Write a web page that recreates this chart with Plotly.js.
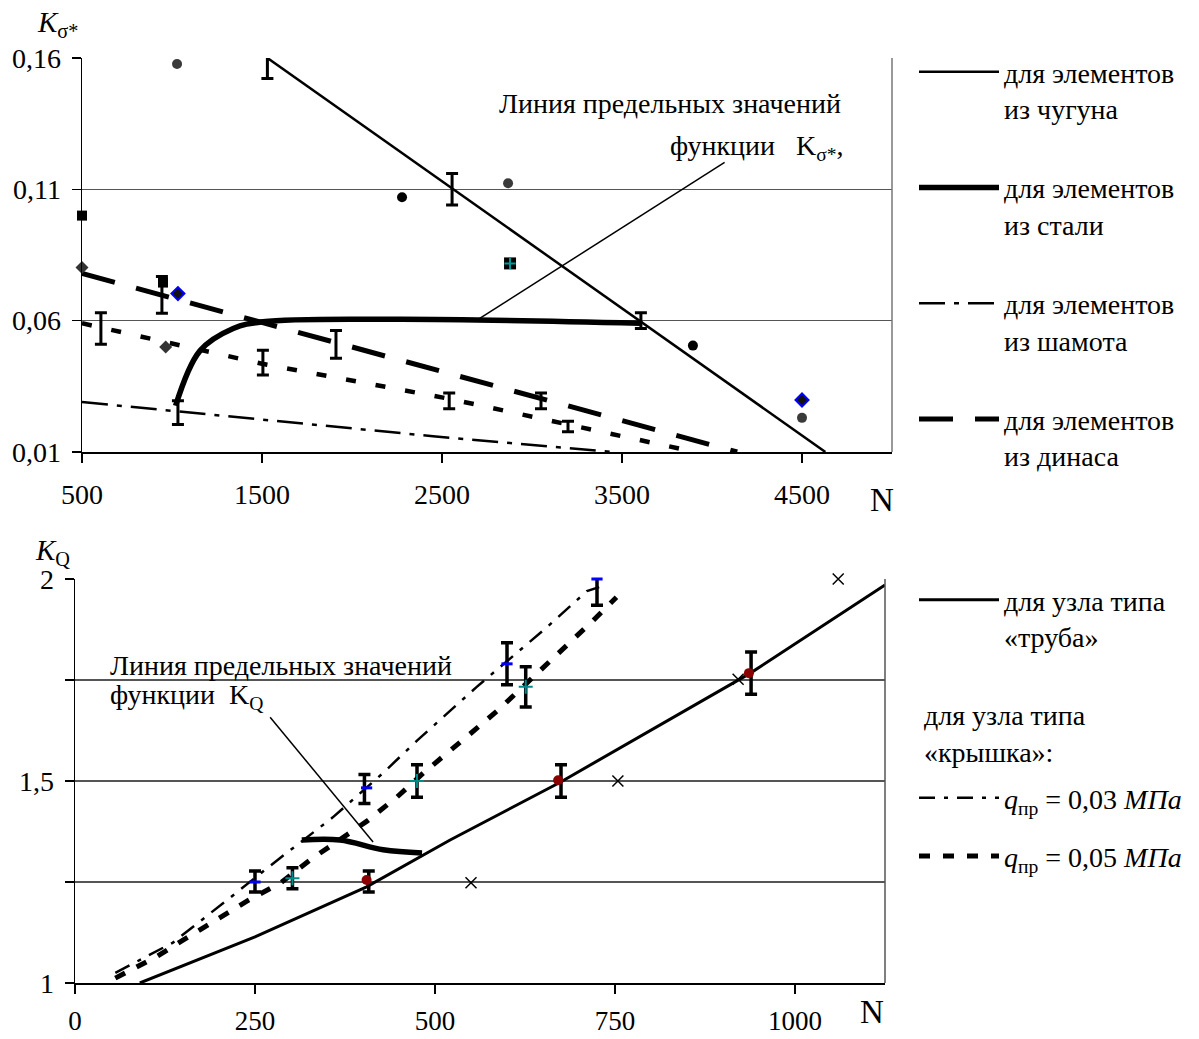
<!DOCTYPE html>
<html><head><meta charset="utf-8">
<script src="https://cdn.plot.ly/plotly-3.0.1.min.js"></script>
<style>body{margin:0;padding:0;background:#fff}#chart{width:1199px;height:1039px}</style>
</head><body><div id="chart"></div>
<script>
// ---------- Top chart (K_sigma* vs N) ----------
const topTickN = [500, 1500, 2500, 3500, 4500];
const topTickK = [0.01, 0.06, 0.11, 0.16];
const topTickKText = ['0,01', '0,06', '0,11', '0,16'];

const castIronN = [1530, 4630];
const castIronK = [0.16, 0.01];
const steelN = [1020, 1155, 1340, 1505, 2267, 3600];
const steelK = [0.0276, 0.0485, 0.057, 0.0596, 0.0605, 0.059];
const chamotteN = [500, 2450, 3450];
const chamotteK = [0.029, 0.016, 0.01];
const dinasN = [500, 1655, 2545, 4140];
const dinasK = [0.078, 0.0564, 0.0398, 0.01];
const midN = [500, 1500, 2545, 3878];
const midK = [0.059, 0.0436, 0.0302, 0.0104];

const topErrN = [1530, 2556, 3605, 1033, 944, 605, 1505, 1911, 2540, 3050, 3200];
const topErrK = [0.1587, 0.11, 0.06, 0.025, 0.0698, 0.057, 0.044, 0.051, 0.0295, 0.0295, 0.0197];
const topErrD = [0.0065, 0.006, 0.003, 0.0045, 0.007, 0.006, 0.0047, 0.0053, 0.003, 0.003, 0.002];

const grayCircN = [1028, 2867, 4500];
const grayCircK = [0.1577, 0.1123, 0.023];
const blackCircN = [2278, 3894];
const blackCircK = [0.107, 0.0505];
const blackSqN = [500, 950];
const blackSqK = [0.100, 0.0745];
const darkDiaN = [500, 965];
const darkDiaK = [0.0802, 0.050];
const blueDiaN = [1033, 4500];
const blueDiaK = [0.0703, 0.0298];
const tealSqN = [2878];
const tealSqK = [0.0818];

const topPtrN = [2690, 4070];
const topPtrK = [0.06, 0.1203];

// ---------- Bottom chart (K_Q vs N) ----------
const botTickN = [0, 250, 500, 750, 1000];
const botTickK = [1, 1.25, 1.5, 1.75, 2];
const botTickKText = ['1', '', '1,5', '', '2'];

const pipeN = [90, 250, 405, 521, 674, 775, 938, 1125];
const pipeK = [1.0, 1.114, 1.238, 1.354, 1.497, 1.60, 1.767, 1.985];
const q03N = [56, 136, 211, 281, 358, 428, 475, 558, 655, 711, 728];
const q03K = [1.025, 1.10, 1.205, 1.304, 1.41, 1.52, 1.60, 1.733, 1.88, 1.97, 1.98];
const q05N = [56, 113, 150, 197, 241, 285, 326, 405, 447, 484, 518, 551, 588, 655, 688, 720, 752];
const q05K = [1.012, 1.065, 1.106, 1.156, 1.205, 1.247, 1.304, 1.40, 1.46, 1.52, 1.569, 1.62, 1.676, 1.787, 1.844, 1.898, 1.955];
const limitN = [315, 368, 428, 482];
const limitK = [1.354, 1.354, 1.33, 1.322];

const botErrN = [250, 302, 408, 402, 475, 600, 626, 725, 675, 939];
const botErrK = [1.251, 1.259, 1.251, 1.48, 1.50, 1.79, 1.733, 1.973, 1.50, 1.767];
const botErrD = [0.026, 0.026, 0.026, 0.036, 0.04, 0.052, 0.05, 0.038, 0.04, 0.052];

const blueN = [250, 405, 600, 725];
const blueK = [1.25, 1.483, 1.79, 2.0];
const tealN = [302, 475, 626];
const tealK = [1.259, 1.50, 1.733];
const redN = [405, 671, 936];
const redK = [1.255, 1.502, 1.767];
const crossN = [550, 754, 921, 1060];
const crossK = [1.248, 1.5, 1.752, 2.0];

const botPtrN = [414, 271];
const botPtrK = [1.349, 1.658];

const FONT = '"Liberation Serif", "Times New Roman", serif';
const FS = 28;

function lineTrace(x, y, xa, ya, line, extra) {
  return Object.assign({type: 'scatter', mode: 'lines', x: x, y: y, xaxis: xa, yaxis: ya, line: line, showlegend: false, hoverinfo: 'skip'}, extra || {});
}
function markTrace(x, y, xa, ya, marker) {
  return {type: 'scatter', mode: 'markers', x: x, y: y, xaxis: xa, yaxis: ya, marker: marker, showlegend: false, cliponaxis: false, hoverinfo: 'skip'};
}
function errTrace(x, y, d, xa, ya, th, w) {
  return {type: 'scatter', mode: 'markers', x: x, y: y, xaxis: xa, yaxis: ya,
    marker: {size: 2, color: 'rgba(0,0,0,0)'}, showlegend: false, cliponaxis: false, hoverinfo: 'skip',
    error_y: {type: 'data', array: d, visible: true, color: '#000', thickness: th, width: w}};
}

const traces = [
  // top chart lines
  lineTrace(castIronN, castIronK, 'x', 'y', {color: '#000', width: 2.5},
    {showlegend: true, name: 'для элементов<br>из чугуна', legend: 'legend', legendgroup: 'g1'}),
  lineTrace(steelN, steelK, 'x', 'y', {color: '#000', width: 5.5, shape: 'spline', smoothing: 1},
    {showlegend: true, name: 'для элементов<br>из стали', legend: 'legend', legendgroup: 'g2'}),
  lineTrace(chamotteN, chamotteK, 'x', 'y', {color: '#000', width: 2.5, dash: '26px,9px,5px,9px'},
    {showlegend: true, name: 'для элементов<br>из шамота', legend: 'legend', legendgroup: 'g3'}),
  lineTrace(dinasN, dinasK, 'x', 'y', {color: '#000', width: 5, dash: '34px,22px'},
    {showlegend: true, name: 'для элементов<br>из динаса', legend: 'legend', legendgroup: 'g4'}),
  lineTrace(midN, midK, 'x', 'y', {color: '#000', width: 4.5, dash: '10px,20px'}),
  lineTrace(topPtrN, topPtrK, 'x', 'y', {color: '#000', width: 1.5}),
  errTrace(topErrN, topErrK, topErrD, 'x', 'y', 3, 6),
  markTrace(grayCircN, grayCircK, 'x', 'y', {symbol: 'circle', size: 10, color: '#3a3a3a'}),
  markTrace(blackCircN, blackCircK, 'x', 'y', {symbol: 'circle', size: 10, color: '#000'}),
  markTrace(blackSqN, blackSqK, 'x', 'y', {symbol: 'square', size: 10, color: '#000'}),
  markTrace(darkDiaN, darkDiaK, 'x', 'y', {symbol: 'diamond', size: 10, color: '#333'}),
  markTrace(blueDiaN, blueDiaK, 'x', 'y', {symbol: 'diamond', size: 10, color: '#111', line: {color: '#0000ff', width: 2}}),
  markTrace(tealSqN, tealSqK, 'x', 'y', {symbol: 'square', size: 12, color: '#000'}),
  markTrace(tealSqN, tealSqK, 'x', 'y', {symbol: 'cross-thin', size: 8, line: {color: '#009999', width: 2}}),

  // bottom chart lines
  lineTrace(pipeN, pipeK, 'x2', 'y2', {color: '#000', width: 3},
    {showlegend: true, name: 'для узла типа<br>«труба»', legend: 'legend2'}),
  lineTrace(q03N, q03K, 'x2', 'y2', {color: '#000', width: 2.5, dash: '16px,9px,4px,9px'},
    {showlegend: true, name: '<i>q</i><sub>пр</sub> = 0,03 <i>МПа</i>', legend: 'legend3', legendgroup: 'q1'}),
  lineTrace(q05N, q05K, 'x2', 'y2', {color: '#000', width: 5, dash: '11px,13px'},
    {showlegend: true, name: '<i>q</i><sub>пр</sub> = 0,05 <i>МПа</i>', legend: 'legend3', legendgroup: 'q2'}),
  lineTrace(limitN, limitK, 'x2', 'y2', {color: '#000', width: 5.5, shape: 'spline', smoothing: 1}),
  lineTrace(botPtrN, botPtrK, 'x2', 'y2', {color: '#000', width: 1.5}),
  errTrace(botErrN, botErrK, botErrD, 'x2', 'y2', 3.5, 6),
  markTrace(blueN, blueK, 'x2', 'y2', {symbol: 'line-ew', size: 8, line: {color: '#0000ff', width: 3}}),
  markTrace(tealN, tealK, 'x2', 'y2', {symbol: 'cross-thin', size: 10, line: {color: '#008b8b', width: 2}}),
  markTrace(redN, redK, 'x2', 'y2', {symbol: 'circle', size: 10, color: '#8b0000'}),
  markTrace(crossN, crossK, 'x2', 'y2', {symbol: 'x-thin', size: 11, line: {color: '#000', width: 1.5}})
];

const axFont = {family: FONT, size: FS, color: '#000'};
const commonX = {ticks: 'outside', ticklen: 9, tickwidth: 1.5, tickcolor: '#000', showline: true, linecolor: '#000', linewidth: 1.5,
  showgrid: false, zeroline: false, tickfont: axFont, ticklabelstandoff: 8, fixedrange: true};
const commonY = {ticks: 'outside', ticklen: 9, tickwidth: 1.5, tickcolor: '#000', showline: true, linecolor: '#000', linewidth: 1.5,
  showgrid: true, gridcolor: '#555', gridwidth: 1.5, zeroline: false, tickfont: axFont, ticklabelstandoff: 5, fixedrange: true};

const legFont = {family: FONT, size: FS, color: '#000'};
const layout = {
  width: 1199, height: 1039,
  margin: {l: 0, r: 0, t: 0, b: 0},
  paper_bgcolor: '#fff', plot_bgcolor: '#fff',
  font: {family: FONT, size: FS, color: '#000'},
  xaxis: Object.assign({}, commonX, {domain: [82/1199, 892/1199], range: [500, 5000], anchor: 'y',
    tickmode: 'array', tickvals: topTickN, ticktext: topTickN.map(String)}),
  yaxis: Object.assign({}, commonY, {domain: [(1039-452)/1039, (1039-58)/1039], range: [0.01, 0.16], anchor: 'x',
    tickmode: 'array', tickvals: topTickK, ticktext: topTickKText}),
  xaxis2: Object.assign({}, commonX, {domain: [75/1199, 885/1199], range: [0, 1125], anchor: 'y2',
    tickmode: 'array', tickvals: botTickN, ticktext: botTickN.map(String), ticklabelstandoff: 4,
    tickfont: {family: FONT, size: 27, color: '#000'}}),
  yaxis2: Object.assign({}, commonY, {domain: [(1039-983)/1039, (1039-579)/1039], range: [1, 2], anchor: 'x2',
    tickmode: 'array', tickvals: botTickK, ticktext: botTickKText}),
  shapes: [
    {type: 'line', xref: 'x domain', yref: 'y domain', x0: 1, x1: 1, y0: 0, y1: 1, line: {color: '#777', width: 1.5}},
    {type: 'line', xref: 'x2 domain', yref: 'y2 domain', x0: 1, x1: 1, y0: 0, y1: 1, line: {color: '#555', width: 1.5}}
  ],
  legend: {x: 914/1199, y: (1039-47)/1039, xanchor: 'left', yanchor: 'top', valign: 'top', itemwidth: 80,
    tracegroupgap: 40, bgcolor: 'rgba(0,0,0,0)', font: legFont, traceorder: 'grouped'},
  legend2: {x: 914/1199, y: (1039-575)/1039, xanchor: 'left', yanchor: 'top', valign: 'top', itemwidth: 80,
    bgcolor: 'rgba(0,0,0,0)', font: legFont},
  legend3: {x: 914/1199, y: (1039-773)/1039, xanchor: 'left', yanchor: 'top', valign: 'top', itemwidth: 80,
    tracegroupgap: 19, bgcolor: 'rgba(0,0,0,0)', font: legFont, traceorder: 'grouped'},
  annotations: [
    {xref: 'paper', yref: 'paper', x: 35/1199, y: (1039-24)/1039, xanchor: 'left', yanchor: 'middle', showarrow: false,
      text: '<i>K</i><sub>σ*</sub>', font: {family: FONT, size: 29}},
    {xref: 'paper', yref: 'paper', x: 882/1199, y: (1039-500)/1039, xanchor: 'center', yanchor: 'middle', showarrow: false,
      text: 'N', font: {family: FONT, size: 33}},
    {xref: 'paper', yref: 'paper', x: 33/1199, y: (1039-552)/1039, xanchor: 'left', yanchor: 'middle', showarrow: false,
      text: '<i>K</i><sub>Q</sub>', font: {family: FONT, size: 29}},
    {xref: 'paper', yref: 'paper', x: 872/1199, y: (1039-1012)/1039, xanchor: 'center', yanchor: 'middle', showarrow: false,
      text: 'N', font: {family: FONT, size: 33}},
    {xref: 'x', yref: 'y', x: 4728, y: 0.1428, xanchor: 'right', yanchor: 'middle', showarrow: false,
      text: 'Линия предельных значений', font: {family: FONT, size: FS}},
    {xref: 'x', yref: 'y', x: 4745, y: 0.126, xanchor: 'right', yanchor: 'middle', showarrow: false,
      text: 'функции   K<sub>σ*</sub>,', font: {family: FONT, size: FS}},
    {xref: 'x2', yref: 'y2', x: 46, y: 1.787, xanchor: 'left', yanchor: 'middle', showarrow: false,
      text: 'Линия предельных значений', font: {family: FONT, size: FS}},
    {xref: 'x2', yref: 'y2', x: 46, y: 1.708, xanchor: 'left', yanchor: 'middle', showarrow: false,
      text: 'функции  K<sub>Q</sub>', font: {family: FONT, size: FS}},
    {xref: 'paper', yref: 'paper', x: 922/1199, y: (1039-715)/1039, xanchor: 'left', yanchor: 'middle', showarrow: false,
      text: 'для узла типа', font: {family: FONT, size: FS}},
    {xref: 'paper', yref: 'paper', x: 922/1199, y: (1039-752)/1039, xanchor: 'left', yanchor: 'middle', showarrow: false,
      text: '«крышка»:', font: {family: FONT, size: FS}}
  ]
};

Plotly.newPlot('chart', traces, layout, {staticPlot: true, displayModeBar: false});
</script>
</body></html>
